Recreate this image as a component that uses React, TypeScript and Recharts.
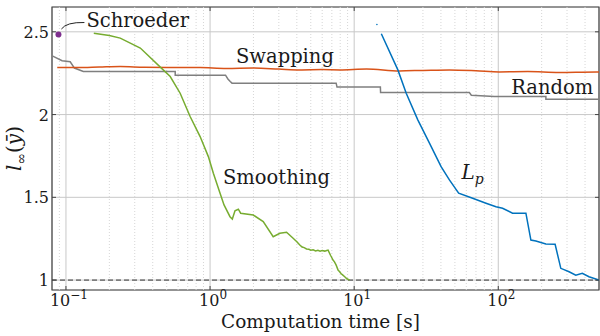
import {
  ComposedChart,
  CartesianGrid,
  Line,
  Scatter,
  XAxis,
  YAxis,
  ReferenceLine,
  ReferenceArea,
  ReferenceDot,
} from "recharts";

const INK = "#1a1a1a";
const txt = { fill: INK, fontFamily: "DejaVu Serif" } as const;

const xTicks = [0.1, 1, 10, 100];
const yTicks = [1, 1.5, 2, 2.5];

// computation time [s] vs l_inf
const randomX = [0.0802, 0.094, 0.107, 0.1145, 0.132, 0.573, 0.573, 1.28, 1.33, 1.38, 1.42, 7.5, 7.6, 15.2, 15.25, 63, 65, 94, 214, 214, 500];
const randomY = [2.355, 2.325, 2.319, 2.281, 2.26, 2.26, 2.238, 2.238, 2.215, 2.2, 2.19, 2.19, 2.166, 2.166, 2.133, 2.133, 2.117, 2.109, 2.109, 2.093, 2.093];

const swapX = [0.087, 0.12, 0.17, 0.238, 0.35, 0.5, 0.853, 1.3, 2, 3, 4.2, 6, 7.94, 12.2, 20.6, 30, 45.8, 70, 101.6, 160, 264, 380, 500];
const swapY = [2.285, 2.284, 2.287, 2.29, 2.286, 2.285, 2.284, 2.279, 2.281, 2.275, 2.27, 2.272, 2.27, 2.276, 2.264, 2.267, 2.27, 2.265, 2.258, 2.26, 2.254, 2.256, 2.258];

const smoothX = [0.156, 0.2, 0.238, 0.328, 0.473, 0.529, 0.62, 0.727, 0.853, 0.973, 1.054, 1.173, 1.25, 1.375, 1.427, 1.489, 1.57, 1.631, 1.994, 2.338, 2.742, 3.051, 3.395, 3.771, 4.0, 4.196, 4.35, 4.5, 4.67, 4.85, 5.0, 5.19, 5.4, 5.6, 5.8, 6.0, 6.25, 6.45, 6.59, 6.85, 7.0, 7.13, 7.3, 7.5, 7.73, 7.9, 8.1, 8.35, 8.6, 8.9, 9.31];
const smoothY = [2.492, 2.478, 2.462, 2.402, 2.27, 2.23, 2.129, 1.988, 1.867, 1.746, 1.645, 1.525, 1.454, 1.383, 1.369, 1.419, 1.428, 1.404, 1.393, 1.353, 1.262, 1.283, 1.289, 1.253, 1.232, 1.212, 1.2, 1.196, 1.188, 1.186, 1.18, 1.183, 1.176, 1.18, 1.174, 1.178, 1.175, 1.179, 1.181, 1.15, 1.135, 1.121, 1.11, 1.09, 1.06, 1.052, 1.04, 1.03, 1.02, 1.008, 1.0];

const lpX = [15.43, 20.1, 22.97, 27.64, 33.3, 40.1, 45.8, 53.1, 66.4, 82.2, 96.4, 107.1, 125.6, 155.5, 168.4, 182.4, 213.8, 248, 271.6, 310, 345, 383, 426, 500];
const lpY = [2.488, 2.27, 2.129, 1.968, 1.827, 1.685, 1.605, 1.525, 1.494, 1.464, 1.443, 1.434, 1.404, 1.404, 1.242, 1.236, 1.218, 1.216, 1.071, 1.05, 1.03, 1.041, 1.02, 1.0];

const schroederX = [0.0887];
const schroederY = [2.484];
const lpStartX = [14.38];
const lpStartY = [2.544];

const minorX: number[] = [];
for (const d of [0.01, 0.1, 1, 10, 100]) {
  for (let k = 2; k <= 9; k++) {
    const v = +(d * k).toPrecision(3);
    if (v > 0.08 && v < 500) minorX.push(v);
  }
}

const rows = (xs: number[], ys: number[]) => xs.map((x, i) => ({ x, y: ys[i] }));

const labels = [
  { name: "Schroeder", x: 0.1386, y: 2.532 },
  { name: "Swapping", x: 1.513, y: 2.313 },
  { name: "Random", x: 123, y: 2.125 },
  { name: "Smoothing", x: 1.23, y: 1.581 },
  { name: "Lp", x: 55.5, y: 1.611 },
];

function XTick({ x, payload }: any) {
  const e = Math.round(Math.log10(payload.value));
  return (
    <g>
      <line x1={x} x2={x} y1={290} y2={286} stroke="#444" />
      <line x1={x} x2={x} y1={7} y2={11} stroke="#444" />
      <text x={x + 3} y={306} textAnchor="middle" style={{ ...txt, fontSize: 16 }}>
        <tspan>10</tspan>
        <tspan dy={-7} style={{ fontSize: 12 }}>
          {e < 0 ? "\u2212" + -e : String(e)}
        </tspan>
      </text>
    </g>
  );
}

function YTick({ y, payload }: any) {
  return (
    <g>
      <line x1={52} x2={56} y1={y} y2={y} stroke="#444" />
      <line x1={599} x2={595} y1={y} y2={y} stroke="#444" />
      <text x={49} y={y} dy={6} textAnchor="end" style={{ ...txt, fontSize: 16 }}>
        {String(payload.value)}
      </text>
    </g>
  );
}

function YLabel({ viewBox }: any) {
  const cx = 21;
  const cy = viewBox.y + viewBox.height / 2;
  return (
    <text x={cx} y={cy} transform={`rotate(-90, ${cx}, ${cy})`} textAnchor="middle" style={{ ...txt, fontSize: 20 }}>
      <tspan style={{ fontStyle: "italic" }}>l</tspan>
      <tspan dy={5} style={{ fontSize: 14 }}>{"\u221e"}</tspan>
      <tspan dy={-5}>(</tspan>
      <tspan style={{ fontStyle: "italic" }}>{"y\u0304"}</tspan>
      <tspan>)</tspan>
    </text>
  );
}

function XLabel({ viewBox }: any) {
  return (
    <text x={viewBox.x + viewBox.width / 2 - 5} y={328} textAnchor="middle" style={{ ...txt, fontSize: 18.5 }}>
      Computation time [s]
    </text>
  );
}

function AnnotationText(name: string) {
  return ({ cx, cy }: any) => {
    if (name === "Lp") {
      return (
        <text x={cx} y={cy} style={{ ...txt, fontSize: 20 }}>
          <tspan style={{ fontStyle: "italic" }}>L</tspan>
          <tspan dy={5} style={{ fontStyle: "italic", fontSize: 14 }}>p</tspan>
        </text>
      );
    }
    return (
      <g>
        {name === "Schroeder" && (
          <path d={`M ${cx - 25} ${cy + 2.5} Q ${cx - 20} ${cy - 4.5} ${cx - 2} ${cy - 4}`} fill="none" stroke="#222" strokeWidth={1} />
        )}
        <text x={cx} y={cy} style={{ ...txt, fontSize: 19.5 }}>
          {name}
        </text>
      </g>
    );
  };
}

export default function App() {
  return (
    <div style={{ position: "absolute", left: 0, top: 0, background: "#fff" }}>
      <ComposedChart width={600} height={336} margin={{ top: 7, right: 1, bottom: 0, left: 0 }}>
        <CartesianGrid stroke="#c8c8c8" strokeWidth={1} />
        {minorX.map((v) => (
          <ReferenceLine key={v} x={v} stroke="#d6d6d6" strokeDasharray="1 2" />
        ))}
        <XAxis
          dataKey="x"
          type="number"
          scale="log"
          domain={[0.08, 500]}
          allowDataOverflow
          ticks={xTicks}
          tick={<XTick />}
          tickLine={false}
          axisLine={false}
          tickSize={0}
          height={46}
          label={<XLabel />}
        />
        <YAxis
          dataKey="y"
          type="number"
          domain={[0.94, 2.65]}
          allowDataOverflow
          ticks={yTicks}
          tick={<YTick />}
          tickLine={false}
          axisLine={false}
          tickSize={0}
          tickMargin={3}
          width={52}
          label={<YLabel />}
        />
        <ReferenceLine y={1} stroke="#333" strokeDasharray="5 3" strokeWidth={1} />
        <ReferenceArea x1={0.08} x2={500} y1={0.94} y2={2.65} fill="none" stroke="#444" strokeWidth={1.2} ifOverflow="visible" />
        <Line data={rows(randomX, randomY)} dataKey="y" type="linear" stroke="#7f7f7f" strokeWidth={1.5} dot={false} isAnimationActive={false} />
        <Line data={rows(swapX, swapY)} dataKey="y" type="monotone" stroke="#D95319" strokeWidth={1.5} dot={false} isAnimationActive={false} />
        <Line data={rows(smoothX, smoothY)} dataKey="y" type="linear" stroke="#77AC30" strokeWidth={1.5} dot={false} isAnimationActive={false} />
        <Line data={rows(lpX, lpY)} dataKey="y" type="linear" stroke="#0072BD" strokeWidth={1.5} dot={false} isAnimationActive={false} />
        <Scatter data={rows(lpStartX, lpStartY)} dataKey="y" fill="#0072BD" shape={(p: any) => <circle cx={p.cx} cy={p.cy} r={0.8} fill="#0072BD" />} isAnimationActive={false} />
        <Scatter data={rows(schroederX, schroederY)} dataKey="y" fill="#7E2F8E" shape={(p: any) => <circle cx={p.cx} cy={p.cy} r={3} fill="#7E2F8E" />} isAnimationActive={false} />
        {labels.map((l) => (
          <ReferenceDot key={l.name} x={l.x} y={l.y} r={0} shape={AnnotationText(l.name)} ifOverflow="visible" />
        ))}
      </ComposedChart>
    </div>
  );
}
